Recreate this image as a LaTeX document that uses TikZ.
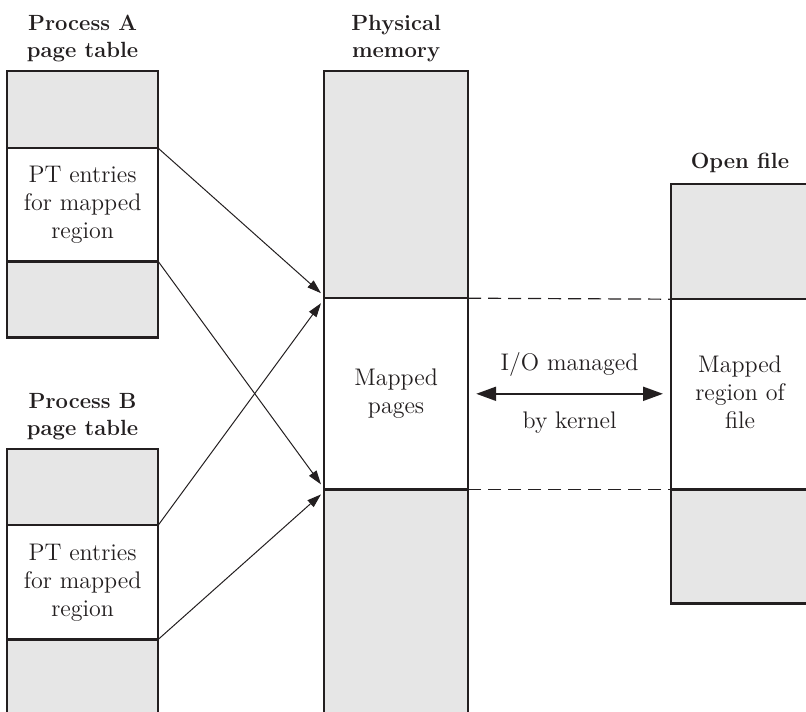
\documentclass[tikz,border=0pt]{standalone}
\usepackage{tikz}
\usetikzlibrary{positioning,arrows.meta,calc}
\definecolor{pagegray}{RGB}{230,230,230}
\definecolor{inkline}{RGB}{35,31,32}
\tikzset{
  grayseg/.style={draw=inkline,fill=pagegray,line width=0.6pt,minimum width=75pt,inner sep=0pt},
  whiteseg/.style={draw=inkline,fill=white,line width=0.6pt,minimum width=75pt,inner sep=0pt,align=center,text=inkline,font=\fontsize{12}{14}\selectfont},
  outline/.style={draw=inkline,line width=1pt},
  heading/.style={align=center,text=inkline,font=\fontsize{11}{13.5}\selectfont\bfseries},
  iolabel/.style={text=inkline,font=\fontsize{12}{14}\selectfont},
  mapflow/.style={-{Triangle[length=7pt,width=4.5pt]},line width=0.5pt,draw=inkline},
  ioflow/.style={{Triangle[length=10pt,width=7pt]}-{Triangle[length=10pt,width=7pt]},line width=1pt,draw=inkline},
  gapline/.style={draw=inkline,line width=0.6pt,dash pattern=on 6.5pt off 3.5pt},
}
\begin{document}
\begin{tikzpicture}[x=0.5pt,y=-0.5pt]
  \useasboundingbox (0,0) rectangle (806,711);
  \clip (0,0) rectangle (806,711);
  % process A page table
  \node[grayseg,anchor=north west,minimum height=38pt] (atop) at (7,71) {};
  \node[whiteseg,below=0pt of atop,minimum height=56pt] (amid) {PT entries\\for mapped\\region};
  \node[grayseg,below=0pt of amid,minimum height=37.5pt] (abot) {};
  \draw[outline] (atop.north west) rectangle (abot.south east);
  \node[heading,above=1pt of atop] (alabel) {Process A\\page table};
  % process B page table
  \node[grayseg,anchor=north west,minimum height=37.5pt] (btop) at (7,449) {};
  \node[whiteseg,below=0pt of btop,minimum height=56.5pt] (bmid) {PT entries\\for mapped\\region};
  \node[grayseg,below=0pt of bmid,minimum height=45pt] (bbot) {};
  \draw[outline] (btop.north west) rectangle (bbot.south east);
  \node[heading,above=1pt of btop] (blabel) {Process B\\page table};
  % physical memory
  \node[grayseg,anchor=north west,minimum width=71.5pt,minimum height=113pt] (ptop) at (324,71) {};
  \node[whiteseg,below=0pt of ptop,minimum width=71.5pt,minimum height=95pt] (pmid) {Mapped\\pages};
  \node[grayseg,below=0pt of pmid,minimum width=71.5pt,minimum height=120pt] (pbot) {};
  \draw[outline] (ptop.north west) rectangle (pbot.south east);
  \node[heading,above=1pt of ptop] (plabel) {Physical\\memory};
  % open file
  \node[grayseg,anchor=north west,minimum width=80pt,minimum height=57pt] (ftop) at (671,184) {};
  \node[whiteseg,below=0pt of ftop,minimum width=80pt,minimum height=94.5pt] (fmid) {};
  \node[iolabel,align=center] (ftext) at (740,392) {Mapped\\region of\\file};
  \node[grayseg,below=0pt of fmid,minimum width=80pt,minimum height=56.5pt] (fbot) {};
  \draw[outline] (ftop.north west) rectangle (fbot.south east);
  \node[heading,above=2pt of ftop.north west,anchor=south,xshift=34.5pt] (flabel) {Open file};
  % dashed links
  \draw[gapline] (pmid.north east) -- (fmid.north west);
  \draw[gapline] (pmid.south east) -- (fmid.south west);
  % page table entries to pages
  \draw[mapflow] (amid.north east) -- ([xshift=-1.5pt,yshift=2.5pt]pmid.north west);
  \draw[mapflow] (amid.south east) -- ([xshift=-1.5pt,yshift=2.5pt]pmid.south west);
  \draw[mapflow] (bmid.north east) -- ([xshift=-1.5pt,yshift=-2.5pt]pmid.north west);
  \draw[mapflow] (bmid.south east) -- ([xshift=-1.5pt,yshift=-2.5pt]pmid.south west);
  % kernel I/O
  \draw[ioflow] ([xshift=4pt]pmid.east) -- ([xshift=-4pt]pmid.east -| fmid.west)
    node[iolabel,midway,above=5pt] (iotop) {I/O managed}
    node[iolabel,midway,below=5pt] (iobot) {by kernel};
\end{tikzpicture}
\end{document}
